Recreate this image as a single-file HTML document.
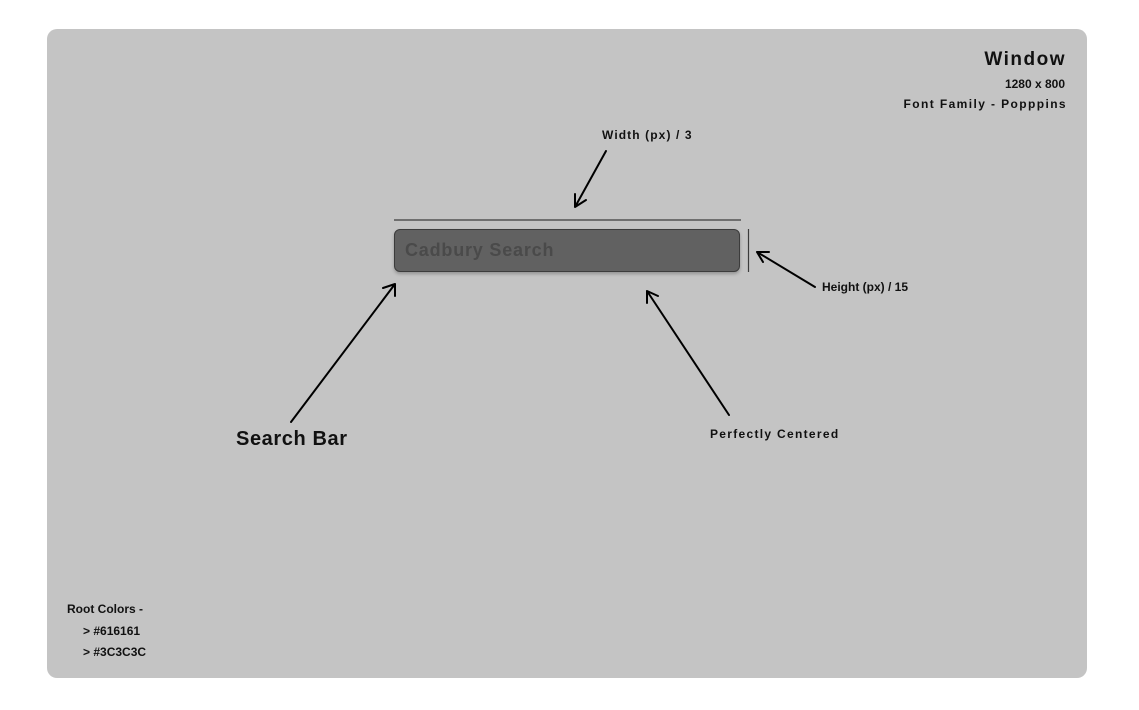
<!DOCTYPE html>
<html><head><style>
body{margin:0;width:1139px;height:710px;background:#fff;position:relative;font-family:"Liberation Sans",sans-serif;font-weight:bold;color:#111;overflow:hidden}
.p{position:absolute;left:47px;top:29px;width:1040px;height:649px;background:#c4c4c4;border-radius:10px}
.t{position:absolute;white-space:nowrap}
.bar{position:absolute;left:394px;top:229px;width:344px;height:41px;background:#616161;border:1.5px solid #3c3c3c;border-radius:6px;box-shadow:0 2px 3px rgba(0,0,0,.25)}
</style></head><body>
<div class="p"></div>
<div class="t" style="right:73px;top:49px;font-size:19px;letter-spacing:1.5px">Window</div>
<div class="t" style="right:74px;top:77px;font-size:12px">1280 x 800</div>
<div class="t" style="right:72px;top:97px;font-size:12px;letter-spacing:1.4px">Font Family - Popppins</div>
<div class="t" style="left:602px;top:128px;font-size:12px;letter-spacing:1.1px">Width (px) / 3</div>
<div class="t" style="left:822px;top:280px;font-size:12px">Height (px) / 15</div>
<div class="t" style="left:236px;top:428px;font-size:20px;letter-spacing:0.6px">Search Bar</div>
<div class="t" style="left:710px;top:427px;font-size:12px;letter-spacing:1.3px">Perfectly Centered</div>
<div class="t" style="left:67px;top:602px;font-size:12px">Root Colors -</div>
<div class="t" style="left:83px;top:624px;font-size:12px">&gt; #616161</div>
<div class="t" style="left:83px;top:645px;font-size:12px">&gt; #3C3C3C</div>
<div class="bar"></div>
<div class="t" style="left:405px;top:240px;font-size:18px;color:#4a4a4a;letter-spacing:0.8px">Cadbury Search</div>
<svg style="position:absolute;left:0;top:0" width="1139" height="710">
<g stroke="#3c3c3c" stroke-width="1.2"><line x1="394" y1="220" x2="741" y2="220"/><line x1="748.5" y1="229" x2="748.5" y2="272"/></g>
<g stroke="#000" stroke-width="2" fill="none" stroke-linecap="round">
<path d="M606 151 L575 207 M575 207 L575 194 M575 207 L586 200"/>
<path d="M815 287 L757 252 M757 252 L769 252 M757 252 L763 262"/>
<path d="M291 422 L395 284 M395 284 L383 288 M395 284 L395 296"/>
<path d="M729 415 L647 291 M647 291 L647 303 M647 291 L658 296"/>
</g></svg>
</body></html>
